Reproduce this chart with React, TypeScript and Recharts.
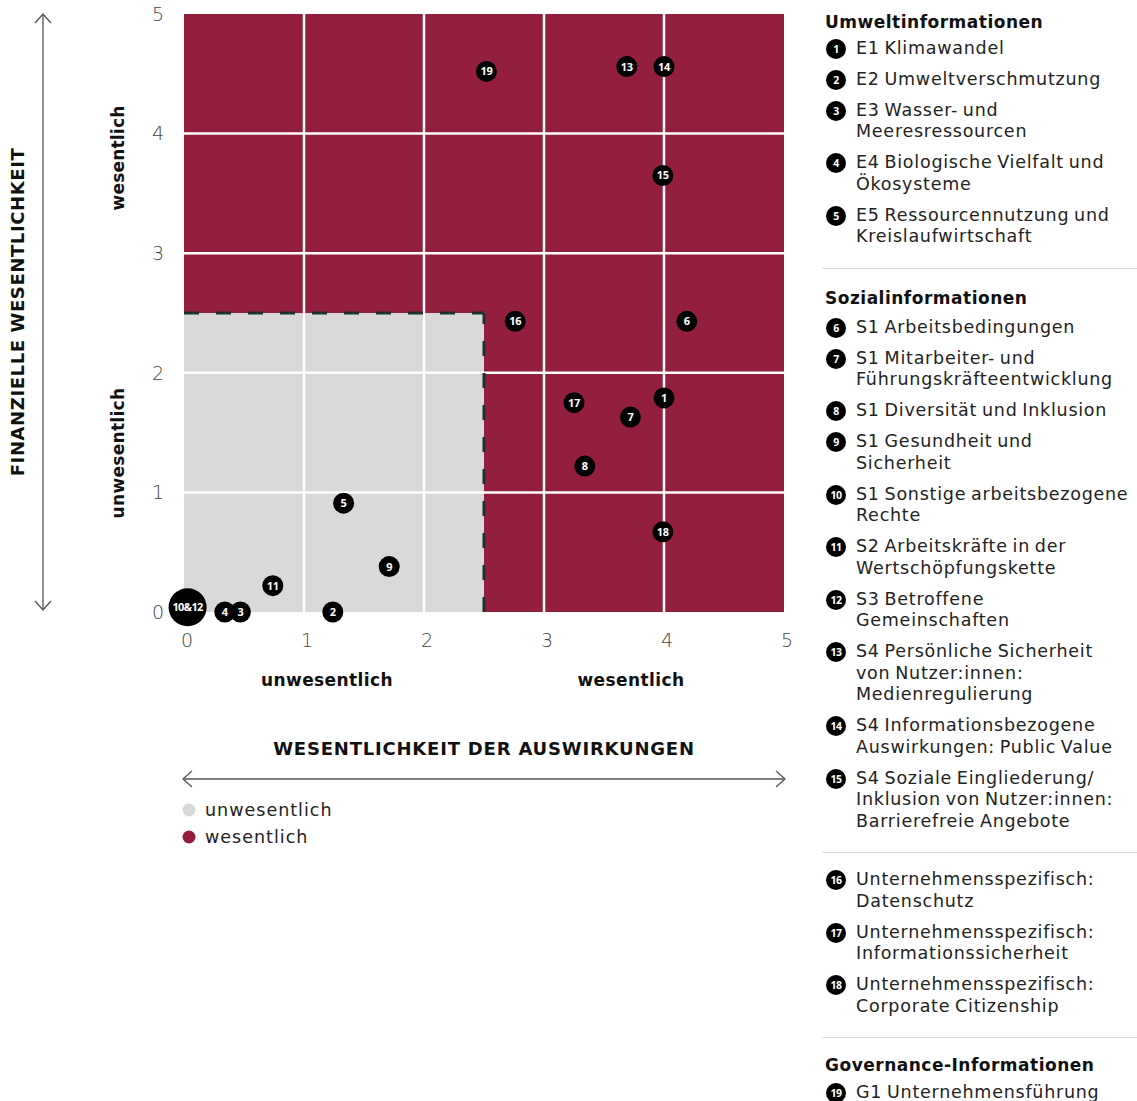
import React from "react"
import { ScatterChart, Scatter, XAxis, YAxis, ReferenceArea, ReferenceLine } from "recharts"

// topics plotted in the matrix (10 and 12 share one marker)
const topicLabels = ["1", "2", "3", "4", "5", "6", "7", "8", "9", "10&12", "11", "13", "14", "15", "16", "17", "18", "19"]
const impactScores = [4.0, 1.24, 0.47, 0.34, 1.33, 4.19, 3.72, 3.34, 1.71, 0.03, 0.74, 3.69, 4.0, 3.99, 2.76, 3.25, 3.99, 2.52]
const financialScores = [1.79, 0, 0, 0, 0.91, 2.43, 1.63, 1.22, 0.38, 0.04, 0.22, 4.56, 4.56, 3.65, 2.43, 1.75, 0.67, 4.52]

const axisTicks = [0, 1, 2, 3, 4, 5]
const gridValues = [1, 2, 3, 4]
const threshold = 2.5

const envTitle = "Umweltinformationen"
const envTopics = [
  "E1 Klimawandel",
  "E2 Umweltverschmutzung",
  "E3 Wasser- und\nMeeresressourcen",
  "E4 Biologische Vielfalt und\nÖkosysteme",
  "E5 Ressourcennutzung und\nKreislaufwirtschaft",
]
const socialTitle = "Sozialinformationen"
const socialTopics = [
  "S1 Arbeitsbedingungen",
  "S1 Mitarbeiter- und\nFührungskräfteentwicklung",
  "S1 Diversität und Inklusion",
  "S1 Gesundheit und\nSicherheit",
  "S1 Sonstige arbeitsbezogene\nRechte",
  "S2 Arbeitskräfte in der\nWertschöpfungskette",
  "S3 Betroffene\nGemeinschaften",
  "S4 Persönliche Sicherheit\nvon Nutzer:innen:\nMedienregulierung",
  "S4 Informationsbezogene\nAuswirkungen: Public Value",
  "S4 Soziale Eingliederung/\nInklusion von Nutzer:innen:\nBarrierefreie Angebote",
]
const companyTopics = [
  "Unternehmensspezifisch:\nDatenschutz",
  "Unternehmensspezifisch:\nInformationssicherheit",
  "Unternehmensspezifisch:\nCorporate Citizenship",
]
const govTitle = "Governance-Informationen"
const govTopics = ["G1 Unternehmensführung"]

const levelNames = ["unwesentlich", "wesentlich"]
const yTitle = "FINANZIELLE WESENTLICHKEIT"
const xTitle = "WESENTLICHKEIT DER AUSWIRKUNGEN"

const RED = "#931e3e"
const GREY = "#d9d9d9"
const FONT = "'DejaVu Sans', sans-serif"
const MARK_FONT = "'Open Sans', 'Noto Sans', sans-serif"

const points = topicLabels.map((label, i) => ({ label, x: impactScores[i], y: financialScores[i] }))

function Marker(props: any) {
  const { cx, cy, payload } = props
  const big = payload.label.includes("&")
  return (
    <g>
      <circle cx={cx} cy={cy} r={big ? 19 : 10.5} fill="#000" />
      <text x={cx} y={cy} dy="0.36em" textAnchor="middle" fill="#fff" fontSize={11} fontWeight={700} letterSpacing={big ? -0.6 : -0.3} fontFamily={MARK_FONT}>
        {payload.label}
      </text>
    </g>
  )
}

function XTick(props: any) {
  const { x, payload } = props
  return (
    <text x={x + 3} y={640} dy="0.36em" textAnchor="middle" fill="#444" fontSize={19} fontWeight={200} fontFamily={FONT}>
      {payload.value}
    </text>
  )
}

function YTick(props: any) {
  const { y, payload } = props
  return (
    <text x={158} y={y} dy="0.36em" textAnchor="middle" fill="#444" fontSize={19} fontWeight={200} fontFamily={FONT}>
      {payload.value}
    </text>
  )
}

function Badge({ n }: { n: number }) {
  return (
    <div
      style={{
        position: "absolute",
        left: 4,
        top: 1,
        width: 20,
        height: 20,
        borderRadius: 10,
        background: "#000",
        color: "#fff",
        fontFamily: MARK_FONT,
        fontSize: 10.5,
        fontWeight: 700,
        lineHeight: "20px",
        textAlign: "center",
        letterSpacing: -0.4,
      }}
    >
      {n}
    </div>
  )
}

function TopicList({ items, start, first }: { items: string[]; start: number; first: number }) {
  return (
    <>
      {items.map((t, i) => (
        <div key={t} style={{ position: "relative", paddingLeft: 34, marginTop: i === 0 ? first : 9.5, lineHeight: "21.5px" }}>
          <Badge n={start + i} />
          {t.split("\n").map((line) => (
            <div key={line} style={{ whiteSpace: "nowrap" }}>{line}</div>
          ))}
        </div>
      ))}
    </>
  )
}

const heading: React.CSSProperties = { fontWeight: 700, fontSize: 17, letterSpacing: 0.5, wordSpacing: 0, lineHeight: "22px", paddingLeft: 3, whiteSpace: "nowrap", color: "#111" }
const rule: React.CSSProperties = { borderTop: "1.5px solid #dedede" }

function Chevron({ d }: { d: string }) {
  return <path d={d} fill="none" stroke="#555" strokeWidth={1.3} />
}

export default function App() {
  return (
    <div style={{ position: "absolute", left: 0, top: 0, width: 1137, height: 1101, overflow: "hidden", background: "#fff", fontFamily: FONT, color: "#222" }}>
      <svg width={1137} height={1101} style={{ position: "absolute", left: 0, top: 0 }} fontFamily={FONT}>
        {/* vertical axis arrow */}
        <line x1={43} y1={14} x2={43} y2={610} stroke="#555" strokeWidth={1.3} />
        <Chevron d="M35 23 L43 14 L51 23" />
        <Chevron d="M35 601 L43 610 L51 601" />
        <text transform="translate(18 312) rotate(-90)" textAnchor="middle" dy="0.36em" fontSize={18} letterSpacing={0.6} fontWeight={700} fill="#111">
          {yTitle}
        </text>
        <text transform="translate(118 158) rotate(-90)" textAnchor="middle" dy="0.36em" fontSize={17} letterSpacing={0.2} fontWeight={700} fill="#111">
          {levelNames[1]}
        </text>
        <text transform="translate(118 453) rotate(-90)" textAnchor="middle" dy="0.36em" fontSize={17} letterSpacing={0.3} fontWeight={700} fill="#111">
          {levelNames[0]}
        </text>
        {/* horizontal axis labels */}
        <text x={327} y={680} dy="0.36em" textAnchor="middle" fontSize={17} letterSpacing={0.4} fontWeight={700} fill="#111">{levelNames[0]}</text>
        <text x={631} y={680} dy="0.36em" textAnchor="middle" fontSize={17} letterSpacing={0.4} fontWeight={700} fill="#111">{levelNames[1]}</text>
        <text x={484} y={749} dy="0.36em" textAnchor="middle" fontSize={18} letterSpacing={0.8} fontWeight={700} fill="#111">{xTitle}</text>
        <line x1={183} y1={779} x2={785} y2={779} stroke="#555" strokeWidth={1.3} />
        <Chevron d="M192 771 L183 779 L192 787" />
        <Chevron d="M776 771 L785 779 L776 787" />
        {/* colour legend */}
        <circle cx={189} cy={810} r={6.5} fill={GREY} />
        <text x={205} y={810} dy="0.36em" fontSize={17.5} letterSpacing={1} fill="#222">{levelNames[0]}</text>
        <circle cx={189} cy={837} r={6.5} fill={RED} />
        <text x={205} y={837} dy="0.36em" fontSize={17.5} letterSpacing={1} fill="#222">{levelNames[1]}</text>
      </svg>

      <div style={{ position: "absolute", left: 0, top: 0 }}>
        <ScatterChart width={800} height={660} margin={{ top: 14, right: 16, left: 144, bottom: 8 }}>
          <XAxis type="number" dataKey="x" domain={[0, 5]} ticks={axisTicks} axisLine={false} tickLine={false} height={40} tick={<XTick />} />
          <YAxis type="number" dataKey="y" domain={[0, 5]} ticks={axisTicks} axisLine={false} tickLine={false} width={40} tick={<YTick />} />
          <ReferenceArea x1={0} x2={5} y1={0} y2={5} fill={RED} fillOpacity={1} stroke="none" />
          <ReferenceArea x1={0} x2={threshold} y1={0} y2={threshold} fill={GREY} fillOpacity={1} stroke="none" />
          {gridValues.map((v) => (
            <ReferenceLine key={"x" + v} x={v} stroke="#fff" strokeWidth={2.5} />
          ))}
          {gridValues.map((v) => (
            <ReferenceLine key={"y" + v} y={v} stroke="#fff" strokeWidth={2.5} />
          ))}
          <ReferenceLine segment={[{ x: 0, y: threshold }, { x: threshold, y: threshold }]} stroke="#1d3330" strokeWidth={3} strokeDasharray="15 17" />
          <ReferenceLine segment={[{ x: threshold, y: 0 }, { x: threshold, y: threshold }]} stroke="#1d3330" strokeWidth={3} strokeDasharray="15 17" />
          <Scatter data={points} shape={<Marker />} isAnimationActive={false} />
        </ScatterChart>
      </div>

      <div style={{ position: "absolute", left: 822, top: 10.5, width: 315, fontSize: 17.5, letterSpacing: 0.75, wordSpacing: -1.5 }}>
        <div style={heading}>{envTitle}</div>
        <TopicList items={envTopics} start={1} first={5} />
        <div style={{ ...rule, marginTop: 20 }} />
        <div style={{ ...heading, marginTop: 18 }}>{socialTitle}</div>
        <TopicList items={socialTopics} start={6} first={8} />
        <div style={{ ...rule, marginTop: 20 }} />
        <TopicList items={companyTopics} start={16} first={16} />
        <div style={{ ...rule, marginTop: 20 }} />
        <div style={{ ...heading, marginTop: 16 }}>{govTitle}</div>
        <TopicList items={govTopics} start={19} first={6} />
      </div>
    </div>
  )
}
